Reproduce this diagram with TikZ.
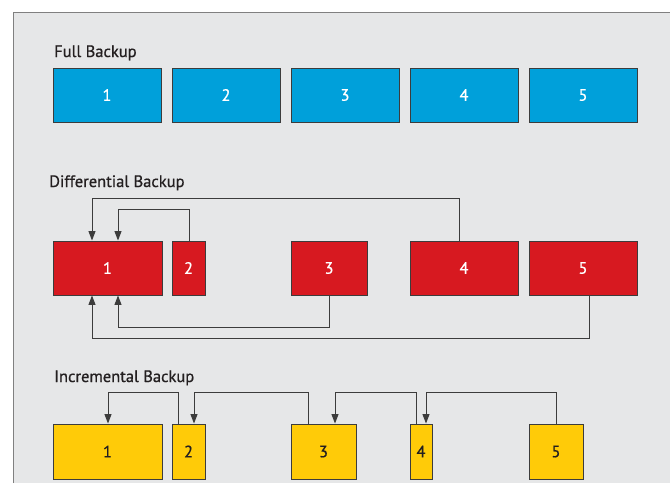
\documentclass[tikz,border=0pt]{standalone}
\usepackage{fontspec}
\setmainfont{PT Sans}
\newfontfamily\medfont{PT Sans}[FakeBold=0.7]
\usetikzlibrary{arrows.meta}

\definecolor{panel}{HTML}{E6E7E8}
\definecolor{frame}{HTML}{808080}
\definecolor{fullblue}{HTML}{00A0DA}
\definecolor{diffred}{HTML}{D71920}
\definecolor{incyellow}{HTML}{FFCB08}
\definecolor{edge}{HTML}{3C3C3C}
\definecolor{ink}{HTML}{231F20}

\tikzset{
  blk/.style={draw=edge, line width=0.9pt, inner sep=0pt, font=\medfont\fontsize{16.5}{18}\selectfont},
  title/.style={anchor=base west, inner sep=0pt, text=ink, font=\medfont\fontsize{16.5}{18}\selectfont},
  conn/.style={draw=edge, line width=1pt, -{Triangle[length=9.5pt,width=7pt]}},
}

% \blk{name}{fill}{text colour}{x1}{x2}{y1}{y2}{label}
\newcommand\blk[8]{%
  \node[blk, fill=#2, text=#3, minimum width={(#5)-(#4)}, minimum height={(#7)-(#6)}]
    (#1) at ({((#4)+(#5))/2},{((#6)+(#7))/2}) {#8};}

\begin{document}
\begin{tikzpicture}[x=1pt,y=-1pt]
\useasboundingbox (0,0) rectangle (670,483);
\fill[white] (0,0) rectangle (670,483);
\fill[panel] (13,12) rectangle (670,483);
\draw[frame, line width=1pt] (13,483) -- (13,12) -- (670,12);

% Full backup
\node[title] (tfull) at (54,57) {Full Backup};
\blk{f1}{fullblue}{white}{53}{161}{68}{122}{1}
\blk{f2}{fullblue}{white}{172}{280}{68}{122}{2}
\blk{f3}{fullblue}{white}{291}{399}{68}{122}{3}
\blk{f4}{fullblue}{white}{410}{518}{68}{122}{4}
\blk{f5}{fullblue}{white}{529}{637}{68}{122}{5}

% Differential backup
\node[title] (tdiff) at (49,187) {Differential Backup};
\blk{d1}{diffred}{white}{53}{162}{241}{295}{1}
\blk{d2}{diffred}{white}{172}{205}{241}{295}{2}
\blk{d3}{diffred}{white}{291}{367}{241}{295}{3}
\blk{d4}{diffred}{white}{410}{518}{241}{295}{4}
\blk{d5}{diffred}{white}{529}{637}{241}{295}{5}

\draw[conn] (d4.north -| 459,0) |- (92,198) -- (d1.north -| 92,0);
\draw[conn] (d2.north -| 189,0) |- (118,209) -- (d1.north -| 118,0);
\draw[conn] (d3.south -| 329,0) |- (118,327) -- (d1.south -| 118,0);
\draw[conn] (d5.south -| 589,0) |- (92,338) -- (d1.south -| 92,0);

% Incremental backup
\node[title] (tinc) at (54,382) {Incremental Backup};
\blk{i1}{incyellow}{ink}{53}{162}{424}{479}{1}
\blk{i2}{incyellow}{ink}{172}{205}{424}{479}{2}
\blk{i3}{incyellow}{ink}{291}{356}{424}{479}{3}
\blk{i4}{incyellow}{ink}{410}{432}{424}{479}{4}
\blk{i5}{incyellow}{ink}{529}{583}{424}{479}{5}

\draw[conn] (i2.north -| 178,0) |- (108,392) -- (i1.north -| 108,0);
\draw[conn] (i3.north -| 308,0) |- (194,392) -- (i2.north -| 194,0);
\draw[conn] (i4.north -| 416,0) |- (335,392) -- (i3.north -| 335,0);
\draw[conn] (i5.north -| 556,0) |- (426,392) -- (i4.north -| 426,0);
\end{tikzpicture}
\end{document}
